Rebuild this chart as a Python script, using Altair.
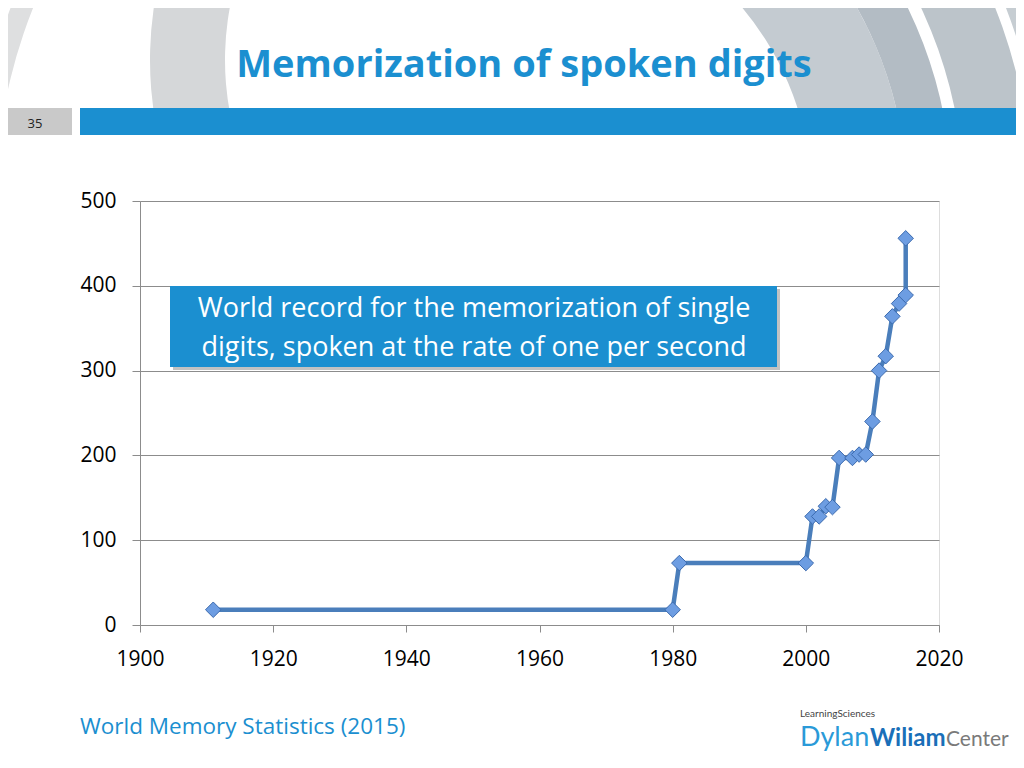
import math
import altair as alt
import pandas as pd

years = [1911, 1980, 1981, 2000, 2001, 2002, 2003, 2004, 2005, 2007, 2008, 2009, 2010, 2011, 2012, 2013, 2014, 2015, 2015]
digits = [18, 18, 73, 73, 128, 128, 140, 139, 197, 197, 201, 201, 240, 300, 317, 364, 379, 389, 456]
x_ticks = [1900, 1920, 1940, 1960, 1980, 2000, 2020]
y_ticks = [0, 100, 200, 300, 400, 500]

title_text = "Memorization of spoken digits"
slide_no = "35"
box_lines = ["World record for the memorization of single", "digits, spoken at the rate of one per second"]
source_text = "World Memory Statistics (2015)"

df = pd.DataFrame({"year": years, "digits": digits, "order": list(range(len(years)))})

BLUE = "#1b8fd0"
FONT = "Open Sans"

x_enc = alt.X("year:Q", scale=alt.Scale(domain=[1900, 2020], nice=False),
              axis=alt.Axis(values=x_ticks, format="d", title=None, grid=False,
                            domainColor="#8c8c8c", tickColor="#8c8c8c", tickSize=7,
                            labelFontSize=21, labelColor="#000000", labelFont=FONT,
                            labelPadding=16, labelFlush=False))
y_enc = alt.Y("digits:Q", scale=alt.Scale(domain=[0, 500], nice=False),
              axis=alt.Axis(values=y_ticks, title=None, grid=True, gridColor="#8c8c8c",
                            domainColor="#8c8c8c", tickColor="#8c8c8c", tickSize=8,
                            labelFontSize=21, labelColor="#000000", labelFont=FONT,
                            labelPadding=16))

base = alt.Chart(df)
line = base.mark_line(color="#4a7ebb", strokeWidth=4.5).encode(x=x_enc, y=y_enc, order="order:Q")
pts = base.mark_point(shape="diamond", size=240, filled=True, fill="#6d9de2", stroke="#3b6aae",
                      strokeWidth=1, opacity=1).encode(x="year:Q", y="digits:Q")

one = alt.Chart(pd.DataFrame({"k": [0]}))

def rect(x, x2, y, y2, color, opacity=1.0):
    return one.mark_rect(color=color, opacity=opacity, clip=False).encode(
        x=alt.value(x), x2=alt.value(x2), y=alt.value(y), y2=alt.value(y2))

def txt(s, x, y, size, color, weight="normal", align="left", font=FONT):
    return one.mark_text(text=s, fontSize=size, color=color, fontWeight=weight, align=align,
                         baseline="alphabetic", font=font, clip=False).encode(
        x=alt.value(x), y=alt.value(y))

# decorative background ring segments behind the header, cut so they end under the blue band
# (centre x, centre y, inner r, outer r, side, colour) with centres in page pixels
rings = [
    (512, 200, 300, 395, "right", "#c4cbd1"),
    (512, 200, 395, 440, "right", "#b3bcc4"),
    (512, 200, 452, 520, "right", "#bcc4ca"),
    (512, 200, 530, 600, "right", "#c6cdd2"),
    (512, 60, 287, 362, "left", "#d5d7d9"),
    (512, 200, 516, 537, "left", "#dedfe0"),
]
ring_layers = []
for (cx, cy, r1, r2, side, c) in rings:
    lo = (cy - 121) / r1  # cos(theta) where each edge meets the middle of the band
    hi = (cy - 121) / r2
    cut = math.acos(max(-1.0, min(1.0, (lo + hi) / 2)))
    if side == "right":
        t1, t2 = 0.0, cut
    else:
        t1, t2 = 2 * math.pi - cut, 2 * math.pi
    ring_layers.append(
        one.mark_arc(color=c, clip=False).encode(
            x=alt.value(cx - 140), y=alt.value(cy - 201),
            radius=alt.value(r2), radius2=alt.value(r1),
            theta=alt.value(t1), theta2=alt.value(t2)))

# header (view coordinates: page - (140, 201))
band = rect(-60, 884, -93, -66, BLUE)
num_box = rect(-132, -68, -93, -66, "#c9c9c9")
num_txt = txt(slide_no, -105, -73, 13, "#222222", align="center")
title = txt(title_text, 384, -124, 38, BLUE, weight="bold", align="center")

# callout box
shadow = rect(33, 640, 88, 169, "#9a9a9a", 0.6)
box = rect(30, 637, 85, 166, BLUE)
l1 = txt(box_lines[0], 334, 116, 27, "#ffffff", align="center")
l2 = txt(box_lines[1], 334, 155, 27, "#ffffff", align="center")

# footer
src = txt(source_text, -60, 533, 22.5, BLUE)
logo1 = txt("LearningSciences", 660, 516, 10, "#444444", font="Lato")
logo2 = txt("Dylan", 660, 545, 27, "#2a9ad8", font="Lato")
logo3 = txt("Wiliam", 730, 545, 24, "#1a6fb8", weight="bold", font="Lato")
logo4 = txt("Center", 806, 545, 21, "#7a7a7a", font="Lato")

chart = alt.layer(*ring_layers, band, num_box, num_txt, title, line, pts, shadow, box, l1, l2,
                  src, logo1, logo2, logo3, logo4).properties(
    width=799, height=424,
    padding={"left": 132, "top": 193, "right": 77, "bottom": 135},
    autosize=alt.AutoSizeParams(type="none"),
).configure_view(stroke=None).configure(background="#ffffff")

chart.save("out.html", embed_options={"renderer": "svg", "actions": False})
